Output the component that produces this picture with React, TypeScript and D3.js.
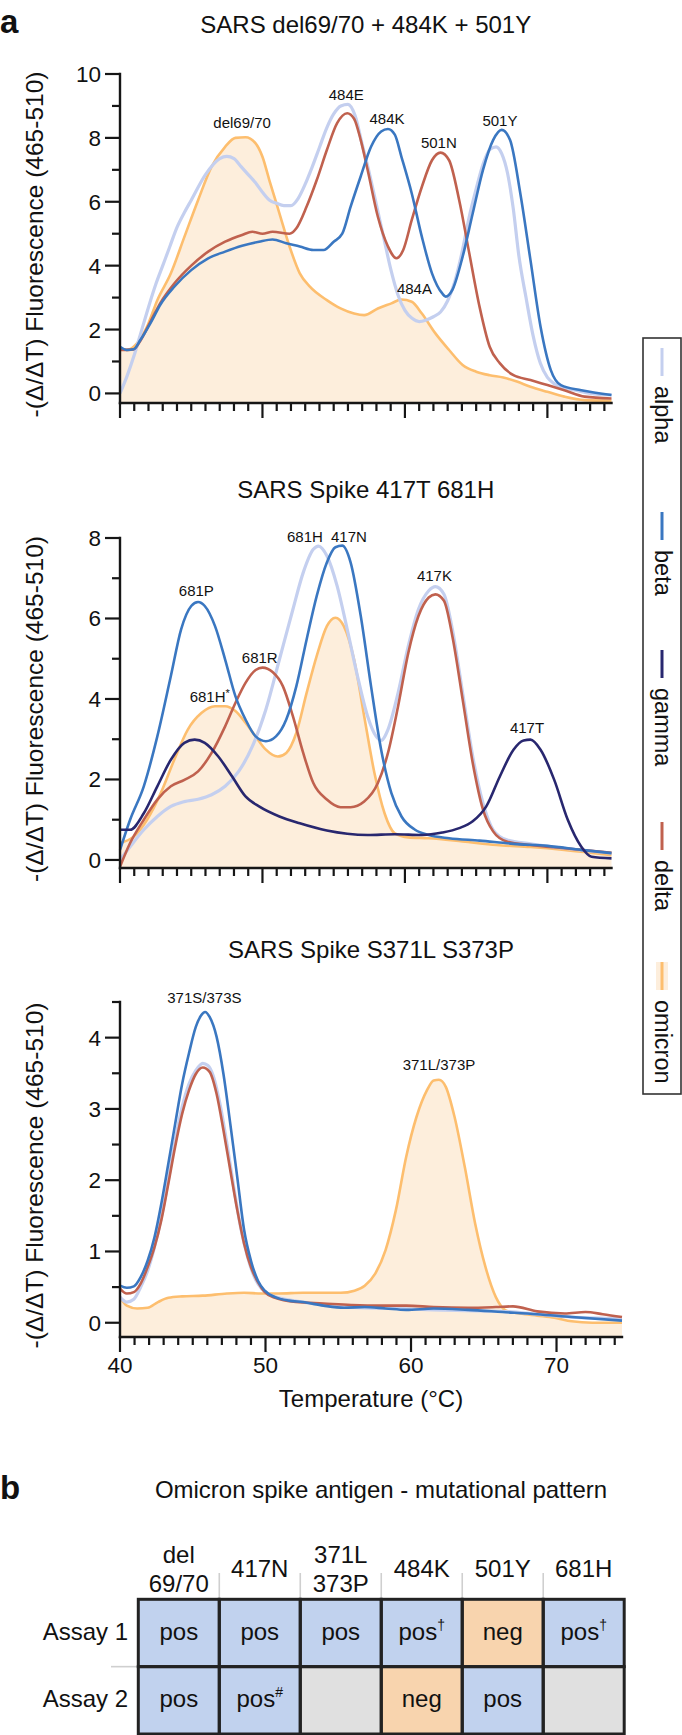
import React from "react";
import * as d3 from "d3";

type Pt = [number, number];

// ---------- Panel 1: SARS del69/70 + 484K + 501Y ----------
const p1Alpha: Pt[] = [[40,0],[40.5,0.55],[41,1.2],[41.5,1.95],[42,2.7],[42.5,3.4],[43,4.0],[43.5,4.6],[44,5.2],[44.5,5.65],[45,6.05],[46,6.85],[47,7.35],[47.5,7.42],[48,7.35],[48.5,7.1],[49,6.85],[49.5,6.6],[50,6.3],[50.5,6.05],[51,5.95],[51.5,5.88],[52,5.88],[52.5,6.1],[53,6.55],[53.5,7.1],[54,7.7],[54.5,8.3],[55,8.75],[55.5,9.0],[56,9.05],[56.5,8.7],[57,7.8],[57.5,6.9],[58,5.9],[58.5,4.9],[59,3.9],[59.5,3.1],[60,2.6],[60.5,2.35],[61,2.25],[61.5,2.3],[62,2.4],[62.5,2.55],[63,2.9],[63.5,3.5],[64,4.4],[64.5,5.5],[65,6.4],[65.5,7.2],[66,7.65],[66.4,7.72],[66.8,7.5],[67.2,6.9],[67.6,5.8],[68,4.3],[68.5,3.0],[69,1.8],[69.5,0.95],[70,0.5],[70.5,0.3],[71,0.2],[72,0.1],[73,0.0],[74.5,-0.05]];
const p1Beta: Pt[] = [[40,1.46],[40.48,1.36],[40.95,1.38],[41.43,1.67],[42.14,2.2],[42.86,2.8],[43.81,3.34],[45,3.86],[46.19,4.23],[47.38,4.44],[48.57,4.62],[49.76,4.75],[50.71,4.82],[51.67,4.7],[52.62,4.6],[53.57,4.49],[54.29,4.49],[55,4.75],[55.6,5.0],[56.19,5.85],[56.9,6.8],[57.62,7.72],[58.33,8.2],[58.81,8.28],[59.29,8.1],[59.76,7.4],[60.48,6.26],[61.19,4.9],[61.9,3.76],[62.62,3.13],[62.86,3.03],[63.33,3.24],[64.05,4.28],[64.76,5.64],[65.48,7.0],[66.19,7.93],[66.79,8.25],[67.38,7.93],[68.1,6.26],[68.81,4.18],[69.52,2.09],[70.24,0.73],[70.95,0.26],[72.38,0.1],[74.5,-0.05]];
const p1Delta: Pt[] = [[40,1.36],[40.95,1.38],[41.43,1.65],[42.14,2.25],[42.86,2.85],[43.81,3.44],[45,4.0],[46.19,4.44],[47.38,4.75],[48.57,4.96],[49.29,5.06],[50,5.0],[50.71,5.06],[51.9,5.0],[52.38,5.17],[53.1,5.85],[53.81,6.68],[54.52,7.62],[55.24,8.46],[55.95,8.77],[56.43,8.6],[56.9,7.93],[57.38,7.0],[58.1,5.53],[58.81,4.6],[59.4,4.23],[59.88,4.49],[60.48,5.43],[61.19,6.47],[61.9,7.3],[62.5,7.54],[63.1,7.3],[63.81,6.05],[64.52,4.38],[65.24,2.71],[65.95,1.46],[66.67,0.94],[67.62,0.57],[68.81,0.42],[70,0.26],[71.19,0.1],[72.62,-0.1],[74.5,-0.16]];
const p1Omicron: Pt[] = [[40,1.41],[40.48,1.36],[41.19,1.57],[41.9,2.09],[42.62,2.92],[43.57,3.76],[44.52,4.9],[45.48,6.05],[46.43,7.1],[47.38,7.72],[48.1,8.0],[48.81,8.02],[49.52,7.83],[50,7.41],[50.48,6.68],[51.19,5.64],[51.9,4.6],[52.62,3.76],[53.33,3.34],[54.52,2.92],[55.48,2.66],[56.43,2.5],[57.14,2.45],[58.1,2.66],[59.05,2.82],[59.76,2.94],[60.48,2.87],[61.19,2.5],[62.14,1.88],[63.1,1.36],[64.05,0.89],[65,0.68],[65.95,0.57],[66.9,0.5],[67.86,0.37],[68.81,0.21],[70,0.05],[71.19,-0.1],[72.62,-0.21],[74.5,-0.23]];

// ---------- Panel 2: SARS Spike 417T 681H ----------
const p2Alpha: Pt[] = [[40,0],[40.71,0.33],[41.67,0.75],[42.62,1.08],[43.57,1.33],[44.52,1.45],[45.48,1.51],[46.43,1.62],[47.38,1.83],[48.33,2.2],[49.29,2.82],[50.24,3.74],[51.19,4.98],[52.14,6.23],[52.86,7.14],[53.57,7.72],[53.93,7.8],[54.52,7.56],[55.24,6.81],[55.95,5.73],[56.67,4.57],[57.38,3.57],[57.98,3.07],[58.33,2.97],[58.81,3.24],[59.52,4.15],[60.24,5.32],[60.95,6.23],[61.67,6.69],[62.14,6.79],[62.74,6.6],[63.33,5.73],[64.05,4.15],[64.76,2.57],[65.48,1.41],[66.19,0.75],[67.14,0.5],[68.81,0.4],[71.19,0.29],[74.5,0.17]];
const p2Beta: Pt[] = [[40,0.25],[40.71,1.0],[41.67,1.83],[42.62,3.07],[43.57,4.57],[44.29,5.73],[45,6.31],[45.48,6.41],[45.95,6.31],[46.67,5.81],[47.38,4.98],[48.1,4.07],[48.81,3.49],[49.52,3.07],[50.24,2.95],[50.95,3.07],[51.67,3.49],[52.38,4.32],[53.1,5.48],[53.81,6.56],[54.52,7.39],[55.12,7.77],[55.6,7.81],[56.19,7.39],[56.9,6.06],[57.62,4.32],[58.33,2.74],[59.05,1.66],[59.76,1.08],[60.71,0.75],[61.67,0.62],[63.1,0.54],[65.24,0.48],[67.62,0.4],[70,0.35],[72.38,0.25],[74.5,0.17]];
const p2Gamma: Pt[] = [[40,0.75],[40.71,0.75],[41.67,1.16],[42.62,1.83],[43.57,2.49],[44.52,2.91],[45.24,2.99],[45.95,2.91],[46.9,2.57],[47.86,2.08],[48.81,1.58],[49.76,1.33],[51.19,1.08],[52.62,0.91],[54.52,0.73],[55.95,0.65],[57.38,0.62],[59.29,0.64],[61.19,0.62],[62.62,0.68],[63.81,0.79],[64.76,0.96],[65.71,1.33],[66.67,2.08],[67.62,2.74],[68.33,2.97],[68.81,2.99],[69.52,2.74],[70.48,1.99],[71.43,1.0],[72.38,0.33],[73.1,0.08],[74.5,0.04]];
const p2Delta: Pt[] = [[40,-0.17],[40.71,0.42],[41.67,1.0],[42.62,1.5],[43.57,1.83],[44.52,1.99],[45.48,2.2],[46.43,2.66],[47.38,3.32],[48.1,3.9],[48.81,4.4],[49.52,4.72],[50,4.78],[50.71,4.67],[51.43,4.32],[52.14,3.57],[52.86,2.66],[53.57,1.91],[54.52,1.5],[55.48,1.31],[56.19,1.31],[57.14,1.45],[58.1,1.91],[58.81,2.66],[59.52,3.82],[60.24,5.15],[60.95,6.06],[61.67,6.52],[62.14,6.6],[62.74,6.44],[63.33,5.56],[64.05,3.99],[64.76,2.41],[65.48,1.25],[66.19,0.71],[67.14,0.46],[68.81,0.37],[71.19,0.29],[74.5,0.18]];
const p2Omicron: Pt[] = [[40,0.42],[40.95,0.58],[41.9,1.0],[42.86,1.66],[43.81,2.49],[44.76,3.24],[45.71,3.65],[46.67,3.82],[47.38,3.82],[48.1,3.7],[48.81,3.41],[49.52,3.07],[50.24,2.74],[51.07,2.57],[51.67,2.66],[52.38,3.16],[53.1,4.15],[53.81,5.07],[54.52,5.81],[55.12,6.02],[55.71,5.81],[56.43,4.98],[57.14,3.57],[57.86,2.16],[58.57,1.16],[59.29,0.66],[60.24,0.56],[61.67,0.54],[64.05,0.46],[66.43,0.37],[68.81,0.32],[71.19,0.25],[74.5,0.12]];

// ---------- Panel 3: SARS Spike S371L S373P ----------
const p3Alpha: Pt[] = [[40,0.36],[40.47,0.29],[40.95,0.33],[41.42,0.5],[41.9,0.73],[42.37,1.06],[42.84,1.48],[43.32,2.0],[43.79,2.56],[44.27,3.03],[44.74,3.35],[45.21,3.54],[45.69,3.64],[46.04,3.61],[46.4,3.47],[46.87,3.07],[47.35,2.51],[47.82,1.9],[48.29,1.34],[48.77,0.92],[49.24,0.64],[49.72,0.48],[50.19,0.4],[51.14,0.34],[52.56,0.29],[54.45,0.24],[56.82,0.21],[59.19,0.2],[61.56,0.18],[63.93,0.17],[66.3,0.16],[68.67,0.12],[71.04,0.08],[74.5,0.06]];
const p3Beta: Pt[] = [[40,0.52],[40.47,0.49],[40.95,0.51],[41.42,0.64],[41.9,0.87],[42.37,1.2],[42.84,1.67],[43.32,2.23],[43.79,2.79],[44.27,3.35],[44.74,3.78],[45.21,4.15],[45.57,4.31],[45.85,4.36],[46.16,4.29],[46.64,4.01],[47.11,3.49],[47.58,2.79],[48.06,2.04],[48.53,1.3],[49,0.87],[49.48,0.59],[49.95,0.45],[50.66,0.36],[51.61,0.31],[52.56,0.29],[53.98,0.24],[55.4,0.21],[56.82,0.22],[58.25,0.2],[59.67,0.18],[61.56,0.2],[63.93,0.18],[66.3,0.15],[68.67,0.12],[71.04,0.08],[74.5,0.03]];
const p3Delta: Pt[] = [[40,0.48],[40.47,0.41],[40.95,0.43],[41.42,0.55],[41.9,0.78],[42.37,1.06],[42.84,1.44],[43.32,1.95],[43.79,2.47],[44.27,2.93],[44.74,3.26],[45.21,3.49],[45.69,3.58],[46.16,3.52],[46.64,3.21],[47.11,2.7],[47.58,2.14],[48.06,1.58],[48.53,1.11],[49,0.78],[49.48,0.57],[49.95,0.43],[50.66,0.35],[52.09,0.29],[53.98,0.27],[55.88,0.25],[57.77,0.24],[59.67,0.24],[61.56,0.22],[63.93,0.21],[65.83,0.22],[67.01,0.23],[68.67,0.16],[70.57,0.13],[71.99,0.15],[73.18,0.12],[74.5,0.08]];
const p3Omicron: Pt[] = [[40,0.36],[40.47,0.24],[41.18,0.2],[41.9,0.21],[42.61,0.29],[43.32,0.35],[44.27,0.37],[45.69,0.38],[47.35,0.41],[48.53,0.42],[49.72,0.41],[50.9,0.41],[52.56,0.42],[53.98,0.42],[55.17,0.42],[56.11,0.45],[56.82,0.52],[57.54,0.69],[58.25,1.02],[58.96,1.58],[59.67,2.33],[60.38,2.89],[61.09,3.26],[61.56,3.4],[61.92,3.41],[62.39,3.31],[62.99,2.89],[63.7,2.18],[64.41,1.39],[65.12,0.78],[65.83,0.36],[66.54,0.17],[67.49,0.13],[68.67,0.1],[69.86,0.07],[71.04,0.02],[72.46,0.0],[74.5,0.0]];

// ---------- Peak annotations (temperature, value) ----------
const p1Labels = [
  { text: "del69/70", t: 48.57, v: 8.3 },
  { text: "484E", t: 55.88, v: 9.2 },
  { text: "484K", t: 58.74, v: 8.43 },
  { text: "501N", t: 62.38, v: 7.68 },
  { text: "501Y", t: 66.67, v: 8.38 },
  { text: "484A", t: 60.67, v: 3.12 },
];
const p2Labels = [
  { text: "681P", t: 45.36, v: 6.56 },
  { text: "681R", t: 49.81, v: 4.9 },
  { text: "681H", sup: "*", t: 46.3, v: 3.93 },
  { text: "681H", t: 52.98, v: 7.91 },
  { text: "417N", t: 56.07, v: 7.91 },
  { text: "417K", t: 62.07, v: 6.92 },
  { text: "417T", t: 68.57, v: 3.16 },
];
const p3Labels = [
  { text: "371S/373S", t: 45.8, v: 4.48 },
  { text: "371L/373P", t: 61.92, v: 3.55 },
];

// ---------- Ticks ----------
const xMajorTicks = [40, 50, 60, 70];
const xMinorTicks = [41,42,43,44,45,46,47,48,49,51,52,53,54,55,56,57,58,59,61,62,63,64,65,66,67,68,69,71,72,73,74];
const p1YMajor = [0, 2, 4, 6, 8, 10];
const p1YMinor = [1, 3, 5, 7, 9];
const p2YMajor = [0, 2, 4, 6, 8];
const p2YMinor = [1, 3, 5, 7];
const p3YMajor = [0, 1, 2, 3, 4];
const p3YMinor = [0.5, 1.5, 2.5, 3.5, 4.5];

// ---------- Legend ----------
const variants = ["alpha", "beta", "gamma", "delta", "omicron"];
const variantColors: Record<string, string> = {
  alpha: "#c4cfef",
  beta: "#3a77c1",
  gamma: "#28276f",
  delta: "#c0614e",
  omicron: "#fdbe6e",
};
const OMICRON_FILL = "#fdeedc";

// ---------- Table ----------
const tableCols = [["del", "69/70"], ["417N"], ["371L", "373P"], ["484K"], ["501Y"], ["681H"]];
const tableRows = ["Assay 1", "Assay 2"];
const assay1 = [
  { v: "pos", sup: "" }, { v: "pos", sup: "" }, { v: "pos", sup: "" },
  { v: "pos", sup: "†" }, { v: "neg", sup: "" }, { v: "pos", sup: "†" },
];
const assay2 = [
  { v: "pos", sup: "" }, { v: "pos", sup: "#" }, { v: "", sup: "" },
  { v: "neg", sup: "" }, { v: "pos", sup: "" }, { v: "", sup: "" },
];
const cellColors: Record<string, string> = { pos: "#c1d2ee", neg: "#f8d4ae", "": "#e0e0e0" };

const FONT = "'Liberation Sans', Arial, Helvetica, sans-serif";
const AXIS = "#161616";

interface PanelCfg {
  title: string;
  titleY: number;
  x0: number; x1: number;
  yTop: number; yBottom: number;
  yDomain: [number, number];
  yMajor: number[]; yMinor: number[];
  series: { name: string; data: Pt[] }[];
  labels: { text: string; sup?: string; t: number; v: number }[];
  xLabels: boolean;
}

function Panel({ cfg }: { cfg: PanelCfg }) {
  const x = d3.scaleLinear().domain([40, 74.5]).range([cfg.x0, cfg.x1]);
  const y = d3.scaleLinear().domain(cfg.yDomain).range([cfg.yBottom, cfg.yTop]);
  const line = d3.line<Pt>().x((d) => x(d[0])).y((d) => y(d[1])).curve(d3.curveMonotoneX);
  const area = d3
    .area<Pt>()
    .x((d) => x(d[0]))
    .y0(y(cfg.yDomain[0]))
    .y1((d) => y(d[1]))
    .curve(d3.curveMonotoneX);
  const omi = cfg.series.find((s) => s.name === "omicron");
  const order = ["omicron", "alpha", "delta", "beta", "gamma"];
  const sorted = [...cfg.series].sort((a, b) => order.indexOf(a.name) - order.indexOf(b.name));
  const cx = (cfg.x0 + cfg.x1) / 2;
  const cy = (cfg.yTop + cfg.yBottom) / 2 + 6;
  return (
    <g>
      <text x={cx} y={cfg.titleY} textAnchor="middle" fontSize={24} fontFamily={FONT} fill="#111">
        {cfg.title}
      </text>
      <text
        transform={`translate(43,${cy}) rotate(-90)`}
        textAnchor="middle"
        fontSize={24.5}
        fontFamily={FONT}
        fill="#111"
      >
        -(Δ/ΔT) Fluorescence (465-510)
      </text>
      {omi && <path d={area(omi.data) || ""} fill={OMICRON_FILL} stroke="none" />}
      {sorted.map((s) => (
        <path
          key={s.name}
          d={line(s.data) || ""}
          fill="none"
          stroke={variantColors[s.name]}
          strokeWidth={s.name === "alpha" ? 3.2 : 2.6}
          strokeLinejoin="round"
        />
      ))}
      {cfg.labels.map((l, i) => (
        <text key={i} x={x(l.t)} y={y(l.v)} textAnchor="middle" fontSize={15} fontFamily={FONT} fill="#111">
          {l.text}
          {l.sup && (
            <tspan fontSize={11} dy={-5}>
              {l.sup}
            </tspan>
          )}
        </text>
      ))}
      {/* axes */}
      <line x1={cfg.x0} x2={cfg.x0} y1={cfg.yTop} y2={cfg.yBottom} stroke={AXIS} strokeWidth={2.4} strokeLinecap="square" />
      <line x1={cfg.x0} x2={cfg.x1} y1={cfg.yBottom} y2={cfg.yBottom} stroke={AXIS} strokeWidth={2.4} strokeLinecap="square" />
      {cfg.yMajor.map((v) => (
        <g key={"ym" + v}>
          <line x1={cfg.x0 - 15} x2={cfg.x0} y1={y(v)} y2={y(v)} stroke={AXIS} strokeWidth={2.2} />
          <text x={cfg.x0 - 19} y={y(v) + 8} textAnchor="end" fontSize={22.5} fontFamily={FONT} fill="#111">
            {v}
          </text>
        </g>
      ))}
      {cfg.yMinor.map((v) => (
        <line key={"yn" + v} x1={cfg.x0 - 8} x2={cfg.x0} y1={y(v)} y2={y(v)} stroke={AXIS} strokeWidth={2.2} />
      ))}
      {xMajorTicks.map((t) => (
        <g key={"xm" + t}>
          <line x1={x(t)} x2={x(t)} y1={cfg.yBottom} y2={cfg.yBottom + 15} stroke={AXIS} strokeWidth={2.2} />
          {cfg.xLabels && (
            <text x={x(t)} y={cfg.yBottom + 36} textAnchor="middle" fontSize={22.5} fontFamily={FONT} fill="#111">
              {t}
            </text>
          )}
        </g>
      ))}
      {xMinorTicks.map((t) => (
        <line key={"xn" + t} x1={x(t)} x2={x(t)} y1={cfg.yBottom} y2={cfg.yBottom + 8} stroke={AXIS} strokeWidth={2.2} />
      ))}
    </g>
  );
}

const panels: PanelCfg[] = [
  {
    title: "SARS del69/70 + 484K + 501Y",
    titleY: 33,
    x0: 120, x1: 611.5, yTop: 74, yBottom: 403,
    yDomain: [-0.3, 10], yMajor: p1YMajor, yMinor: p1YMinor,
    series: [
      { name: "omicron", data: p1Omicron },
      { name: "alpha", data: p1Alpha },
      { name: "beta", data: p1Beta },
      { name: "delta", data: p1Delta },
    ],
    labels: p1Labels,
    xLabels: false,
  },
  {
    title: "SARS Spike 417T 681H",
    titleY: 498,
    x0: 120, x1: 611.5, yTop: 538, yBottom: 868,
    yDomain: [-0.2, 8], yMajor: p2YMajor, yMinor: p2YMinor,
    series: [
      { name: "omicron", data: p2Omicron },
      { name: "alpha", data: p2Alpha },
      { name: "beta", data: p2Beta },
      { name: "gamma", data: p2Gamma },
      { name: "delta", data: p2Delta },
    ],
    labels: p2Labels,
    xLabels: false,
  },
  {
    title: "SARS Spike S371L S373P",
    titleY: 958,
    x0: 120, x1: 622, yTop: 1002, yBottom: 1337,
    yDomain: [-0.2, 4.5], yMajor: p3YMajor, yMinor: p3YMinor,
    series: [
      { name: "omicron", data: p3Omicron },
      { name: "alpha", data: p3Alpha },
      { name: "beta", data: p3Beta },
      { name: "delta", data: p3Delta },
    ],
    labels: p3Labels,
    xLabels: true,
  },
];

function Legend() {
  const starts = [348, 512, 650, 822, 962];
  const lineX = 662;
  return (
    <g>
      <rect x={643} y={338} width={38} height={756} fill="white" stroke="#333" strokeWidth={1.6} />
      {variants.map((v, i) => {
        const s = starts[i];
        return (
          <g key={v}>
            {v === "omicron" && <rect x={lineX - 6} y={s} width={12} height={28} fill={OMICRON_FILL} />}
            <line x1={lineX} x2={lineX} y1={s} y2={s + 28} stroke={variantColors[v]} strokeWidth={3} />
            <text
              transform={`translate(655,${s + 38}) rotate(90)`}
              fontSize={23.5}
              fontFamily={FONT}
              fill="#111"
            >
              {v}
            </text>
          </g>
        );
      })}
    </g>
  );
}

function Table() {
  const xb = d3.scaleBand<number>().domain(d3.range(tableCols.length)).range([138.3, 624.2]);
  const yb = d3.scaleBand<number>().domain(d3.range(tableRows.length)).range([1599.3, 1734]);
  const rows = [assay1, assay2];
  const bw = xb.bandwidth();
  const bh = yb.bandwidth();
  return (
    <g fontFamily={FONT} fill="#111">
      <text x={0} y={1499} fontSize={33} fontWeight="bold" fontFamily={FONT}>b</text>
      <text x={381} y={1498} textAnchor="middle" fontSize={24} fontFamily={FONT}>
        Omicron spike antigen - mutational pattern
      </text>
      {tableCols.map((c, i) => (
        <g key={"h" + i}>
          {i > 0 && (
            <line x1={xb(i)!} x2={xb(i)!} y1={1573} y2={1599} stroke="#cfcfcf" strokeWidth={1.6} />
          )}
          {c.length === 2 ? (
            <>
              <text x={xb(i)! + bw / 2} y={1562.5} textAnchor="middle" fontSize={24}>{c[0]}</text>
              <text x={xb(i)! + bw / 2} y={1592} textAnchor="middle" fontSize={24}>{c[1]}</text>
            </>
          ) : (
            <text x={xb(i)! + bw / 2} y={1576.5} textAnchor="middle" fontSize={24}>{c[0]}</text>
          )}
        </g>
      ))}
      <line x1={111} x2={138} y1={yb(1)!} y2={yb(1)!} stroke="#cfcfcf" strokeWidth={1.6} />
      {tableRows.map((r, ri) => (
        <text key={r} x={128} y={yb(ri)! + bh / 2 + 7} textAnchor="end" fontSize={24}>{r}</text>
      ))}
      {rows.map((row, ri) =>
        row.map((cell, ci) => (
          <rect key={`c${ri}-${ci}`} x={xb(ci)!} y={yb(ri)!} width={bw} height={bh} fill={cellColors[cell.v]} />
        ))
      )}
      {rows.map((row, ri) =>
        row.map((cell, ci) => (
          <rect key={`b${ri}-${ci}`} x={xb(ci)!} y={yb(ri)!} width={bw} height={bh} fill="none" stroke="#222" strokeWidth={3} />
        ))
      )}
      {rows.map((row, ri) =>
        row.map((cell, ci) =>
          cell.v ? (
            <text key={`t${ri}-${ci}`} x={xb(ci)! + bw / 2} y={yb(ri)! + bh / 2 + 7} textAnchor="middle" fontSize={24}>
              {cell.v}
              {cell.sup && (
                <tspan fontSize={14} dy={-10}>
                  {cell.sup}
                </tspan>
              )}
            </text>
          ) : null
        )
      )}
    </g>
  );
}

export default function App() {
  return (
    <div style={{ position: "absolute", left: 0, top: 0, width: 682, height: 1735, background: "white" }}>
      <svg width={682} height={1735} style={{ display: "block" }}>
        <rect x={0} y={0} width={682} height={1735} fill="white" />
        <text x={0} y={33} fontSize={33} fontWeight="bold" fontFamily={FONT} fill="#111">a</text>
        {panels.map((p, i) => (
          <Panel key={i} cfg={p} />
        ))}
        <text x={371} y={1407} textAnchor="middle" fontSize={24} fontFamily={FONT} fill="#111">
          Temperature (°C)
        </text>
        <Legend />
        <Table />
      </svg>
    </div>
  );
}
